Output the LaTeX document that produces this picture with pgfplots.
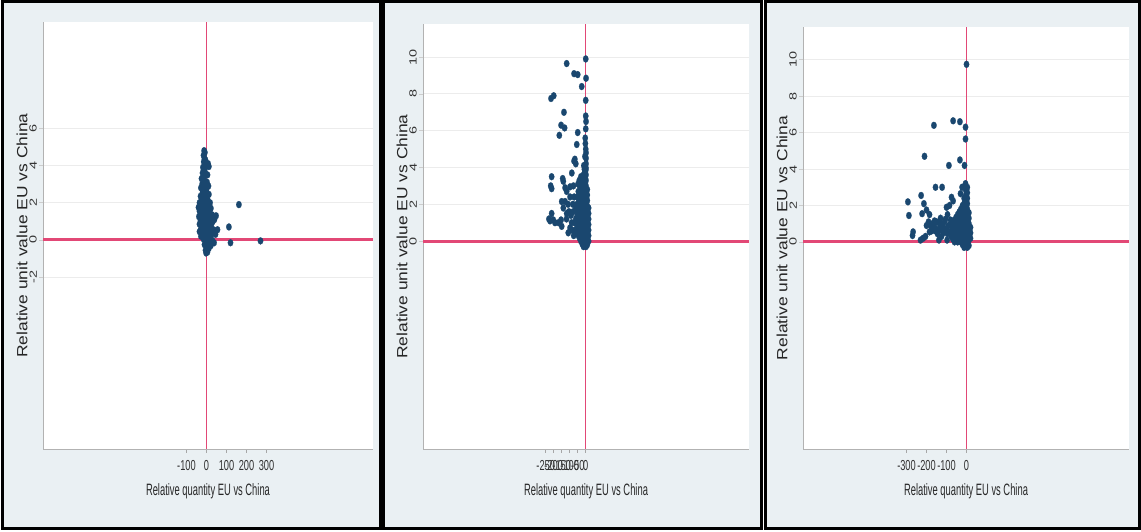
\documentclass[border=0pt]{standalone}
\usepackage{pgfplots}
\pgfplotsset{compat=1.18}
\usepackage{fontspec}
\setmainfont{Liberation Sans}
\usepackage{graphicx}
\definecolor{bg}{RGB}{234,240,243}
\definecolor{navy}{RGB}{26,71,111}
\definecolor{refred}{RGB}{226,72,118}
\newcommand\xt[1]{\scalebox{0.64}[1]{#1}}
\newcommand\yt[1]{\scalebox{1}[0.72]{#1}}
\pgfplotsset{
 panel/.style={
  scale only axis,
  anchor=south west,
  axis lines*=left,
  axis line style={draw=gray!60, line width=0.8bp},
  axis background/.style={fill=white},
  ymajorgrids,
  grid style={draw=gray!15, line width=0.8bp},
  tick align=outside,
  major tick length=4bp,
  xtick style={draw=gray!70, line width=0.6bp},
  ytick style={draw=gray!40, line width=0.6bp},
  xticklabel style={font=\fontsize{14.5}{15}\selectfont, text=black!80, anchor=north, inner sep=0pt, yshift=-7bp},
  yticklabel style={font=\fontsize{14.5}{15}\selectfont, text=black!80, rotate=90, anchor=south, inner sep=0pt, yshift=2bp},
  xlabel={\scalebox{0.57}[1]{Relative quantity EU vs China}},
  ylabel={\scalebox{1}[0.85]{Relative unit value EU vs China}},
  xlabel style={font=\fontsize{16.5}{17}\selectfont, text=black!85, at={(axis description cs:0.5,0)}, anchor=center, yshift=-42bp},
  ylabel style={font=\fontsize{17.5}{18}\selectfont, text=black!85, at={(axis description cs:0,0.5)}, anchor=center, yshift=21bp},
 },
 dots/.style={only marks, mark=*, mark size=2.7bp, mark options={fill=navy, draw=navy, line width=0.2bp, yscale=1.3}},
}
\begin{document}
\begin{tikzpicture}[x=1bp,y=1bp]
\useasboundingbox (0,0) rectangle (1141,532);
\fill[white] (0,0) rectangle (1141,532);
\draw[line width=3bp, fill=bg] (2.5,3.5) rectangle (380,530.5);
\draw[line width=3bp, fill=bg] (383.5,3.5) rectangle (761.5,530.5);
\draw[line width=3bp, fill=bg] (765,3.5) rectangle (1139,530.5);

% Panel 1
\begin{axis}[panel, at={(43bp,83bp)}, width=330bp, height=427bp,
  xmin=-817.5, xmax=832.5, ymin=-11.24, ymax=11.72,
  xtick={-100,0,100,200,300}, xticklabels={\xt{-100},\xt{0},\xt{100},\xt{200},\xt{300}},
  ytick={-2,0,2,4,6}, yticklabels={\yt{-2},\yt{0},\yt{2},\yt{4},\yt{6}}]
\addplot[refred, line width=3bp, forget plot] coordinates {(-817.5,0) (832.5,0)};
\addplot[refred, line width=1.2bp, forget plot] coordinates {(0,-11.24) (0,11.72)};
\addplot[dots] coordinates {
(-12,4.8) (-8,4.7) (-15,4.55) (-10,4.4) (-5,4.3) (-14,4.2) (8,4.1) (12,3.95) (-3,4.0) (-18,3.9)
(-8,3.8) (-20,3.6) (-5,3.55) (5,3.5) (-15,3.35) (-25,3.3) (-10,3.2) (3,3.1) (-22,3.0) (-8,2.95)
(10,2.9) (-28,2.8) (-15,2.75) (0,2.7) (-20,2.55) (-5,2.5) (12,2.45) (-30,2.35) (-12,2.3) (5,2.2)
(-25,2.15) (-35,2.0) (-2,2.05) (18,2.0) (-18,1.95) (-30,1.85) (-8,1.85) (8,1.8) (-40,1.75) (-22,1.7)
(22,1.7) (0,1.65) (-35,1.55) (-12,1.55) (15,1.5) (-28,1.45) (-5,1.4) (28,1.35) (5,1.3) (-20,1.3)
(-38,1.25) (20,1.2) (-10,1.15) (-30,1.05) (0,1.05) (32,1.0) (12,1.0) (-22,0.95) (-35,0.85) (-5,0.85)
(25,0.85) (8,0.75) (-15,0.75) (-28,0.6) (18,0.6) (0,0.6) (35,0.55) (-10,0.5) (-35,0.45) (10,0.45)
(-20,0.35) (28,0.35) (2,0.3) (-28,0.2) (15,0.2) (-8,0.15) (22,0.1) (-15,0.05) (5,0.0) (30,-0.05)
(-5,-0.1) (15,-0.15) (-10,-0.25) (8,-0.3) (22,-0.3) (0,-0.4) (12,-0.45) (-5,-0.55) (5,-0.65) (-2,-0.7)
(40,1.1) (48,1.3) (55,0.55) (45,0.3) (38,-0.15)
(112,0.7) (120,-0.15) (162,1.9) (270,-0.05)
};
\end{axis}

% Panel 2
\begin{axis}[panel, at={(423bp,83bp)}, width=326bp, height=425bp,
  xmin=-1017, xmax=1020.6, ymin=-11.3, ymax=11.8,
  xtick={-250,-200,-150,-100,-50,0}, xticklabels={\xt{-250},\xt{-200},\xt{-150},\xt{-100},\xt{-50},\xt{0}},
  ytick={0,2,4,6,8,10}, yticklabels={\yt{0},\yt{2},\yt{4},\yt{6},\yt{8},\yt{10}}]
\addplot[refred, line width=3bp, forget plot] coordinates {(-1017,0) (1020.6,0)};
\addplot[refred, line width=1.2bp, forget plot] coordinates {(0,-11.3) (0,11.8)};
\addplot[dots] coordinates {
(0,9.9) (-119,9.65) (-73,9.1) (-50,9.05) (2,8.85) (-25,8.4) (0,7.65) (-217,7.75) (-200,7.9) (-136,7.0)
(-154,6.3) (-132,6.15) (-165,5.75) (-50,5.9) (-56,5.25) (0,6.8) (2,6.5) (0,6.1) (-3,5.6) (0,5.0)
(-5,4.6) (-73,4.35) (-62,4.2) (-68,4.45)
(-213,3.5) (-219,3.0) (-213,2.85) (-140,3.25) (-129,2.9) (-144,3.4) (-213,1.5) (-223,1.1) (-230,1.2) (-203,1.15)
(-192,1.0) (-171,1.0) (-154,1.15) (-150,0.8) (-119,1.5) (-98,2.4) (-77,3.0) (-87,3.7) (-109,0.45) (-150,2.15)
(-129,2.15) (-119,2.7) (-98,2.95) (-98,0.72) (-140,1.8) (-120,1.2) (-105,1.6) (-88,1.0) (-80,2.0) (-75,0.3)
(-110,2.0) (-92,1.4) (-85,0.6) (-78,1.6) (-72,2.4) (-70,1.0)
(18,0.0) (18,0.3) (18,0.6) (18,0.9) (18,1.2) (18,1.5) (18,1.8)
(10,-0.2) (10,0.1) (10,0.4) (10,0.7) (10,1.0) (10,1.3) (10,1.6) (10,1.9) (10,2.2) (10,2.5) (10,2.8)
(2,-0.3) (2,0.0) (2,0.3) (2,0.6) (2,0.9) (2,1.2) (2,1.5) (2,1.8) (2,2.1) (2,2.4) (2,2.7) (2,3.0) (2,3.3) (2,3.6) (2,3.9) (2,4.2) (2,4.5)
(-6,-0.15) (-6,0.15) (-6,0.45) (-6,0.75) (-6,1.05) (-6,1.35) (-6,1.65) (-6,1.95) (-6,2.25) (-6,2.55) (-6,2.85) (-6,3.15) (-6,3.45) (-6,3.75)
(-14,-0.3) (-14,0.0) (-14,0.3) (-14,0.6) (-14,0.9) (-14,1.2) (-14,1.5) (-14,1.8) (-14,2.1) (-14,2.4) (-14,2.7) (-14,3.0) (-14,3.3) (-14,3.6)
(-22,-0.15) (-22,0.15) (-22,0.45) (-22,0.75) (-22,1.05) (-22,1.35) (-22,1.65) (-22,1.95) (-22,2.25) (-22,2.55) (-22,2.85) (-22,3.15) (-22,3.45)
(-30,0.0) (-30,0.3) (-30,0.6) (-30,0.9) (-30,1.2) (-30,1.5) (-30,1.8) (-30,2.1) (-30,2.4) (-30,2.7) (-30,3.0) (-30,3.3)
(-38,0.15) (-38,0.45) (-38,0.75) (-38,1.05) (-38,1.35) (-38,1.65) (-38,1.95) (-38,2.25) (-38,2.55) (-38,3.0)
(-46,0.3) (-46,0.6) (-46,0.9) (-46,1.2) (-46,1.5) (-46,1.8) (-46,2.1) (-46,2.4) (-46,2.7)
(-54,0.45) (-54,0.75) (-54,1.05) (-54,1.35) (-54,1.65) (-54,2.0) (-54,2.4)
(-62,0.6) (-62,1.2) (-62,1.8)
(0,4.0) (2,4.8) (-2,5.3) (-8,3.9) (-12,4.1) (-30,3.5) (-40,3.3) (-48,3.1)
};
\end{axis}

% Panel 3
\begin{axis}[panel, at={(803bp,83bp)}, width=326bp, height=422bp,
  xmin=-817.5, xmax=812.5, ymin=-11.37, ymax=11.8,
  xtick={-300,-200,-100,0}, xticklabels={\xt{-300},\xt{-200},\xt{-100},\xt{0}},
  ytick={0,2,4,6,8,10}, yticklabels={\yt{0},\yt{2},\yt{4},\yt{6},\yt{8},\yt{10}}]
\addplot[refred, line width=3bp, forget plot] coordinates {(-817.5,0) (812.5,0)};
\addplot[refred, line width=1.2bp, forget plot] coordinates {(0,-11.37) (0,11.8)};
\addplot[dots] coordinates {
(0,9.75) (-163,6.4) (-67,6.65) (-33,6.6) (-5,6.3) (-5,5.65) (-210,4.7) (-88,4.2) (-33,4.5) (-10,4.2)
(-155,3.0) (-122,3.0) (-227,2.55) (-293,2.2) (-288,1.45) (-267,0.55) (-270,0.35) (-230,0.1) (-217,0.2) (-205,0.3)
(-213,2.1) (-200,1.75) (-222,1.55) (-138,0.1) (-97,0.1) (-75,2.45) (-67,2.25) (-30,2.65) (-22,3.0) (-5,3.2) (0,2.9)
(-190,1.1) (-180,0.9) (-170,1.0) (-160,0.8) (-150,1.1) (-140,0.7) (-130,1.0) (-120,0.8) (-110,1.1) (-100,0.7)
(-90,0.9) (-80,1.2) (-185,1.5) (-175,0.6) (-145,0.45) (-115,0.5) (-95,1.5) (-85,2.0) (-100,1.9) (-125,0.3)
(-60,0.3) (-70,0.5) (-200,0.9)
(-185,0.55) (-170,0.75) (-155,0.6) (-140,1.05) (-125,0.65) (-110,0.75) (-95,0.45) (-160,1.15) (-130,1.3) (-105,1.25)
(20,0.2) (20,0.5) (20,0.8)
(12,-0.2) (12,0.1) (12,0.4) (12,0.7) (12,1.0) (12,1.3) (12,1.6)
(4,-0.3) (4,0.0) (4,0.3) (4,0.6) (4,0.9) (4,1.2) (4,1.5) (4,1.8) (4,2.1) (4,2.4) (4,2.7) (4,3.0)
(-4,-0.15) (-4,0.15) (-4,0.45) (-4,0.75) (-4,1.05) (-4,1.35) (-4,1.65) (-4,1.95) (-4,2.25) (-4,2.55) (-4,2.85)
(-12,-0.3) (-12,0.0) (-12,0.3) (-12,0.6) (-12,0.9) (-12,1.2) (-12,1.5) (-12,1.8) (-12,2.1) (-12,2.4)
(-20,-0.15) (-20,0.15) (-20,0.45) (-20,0.75) (-20,1.05) (-20,1.35) (-20,1.65) (-20,2.0)
(-28,0.0) (-28,0.3) (-28,0.6) (-28,0.9) (-28,1.2) (-28,1.5) (-28,1.8)
(-36,0.15) (-36,0.45) (-36,0.75) (-36,1.05) (-36,1.35) (-36,1.65)
(-44,0.0) (-44,0.3) (-44,0.6) (-44,0.9) (-44,1.2) (-44,1.5)
(-52,0.15) (-52,0.45) (-52,0.75) (-52,1.05) (-52,1.35)
(-60,0.0) (-60,0.6) (-60,0.9) (-60,1.2)
(-68,0.15) (-68,0.75) (-68,1.05)
(-76,0.3) (-76,0.6) (-76,0.9)
};
\end{axis}
\end{tikzpicture}
\end{document}
